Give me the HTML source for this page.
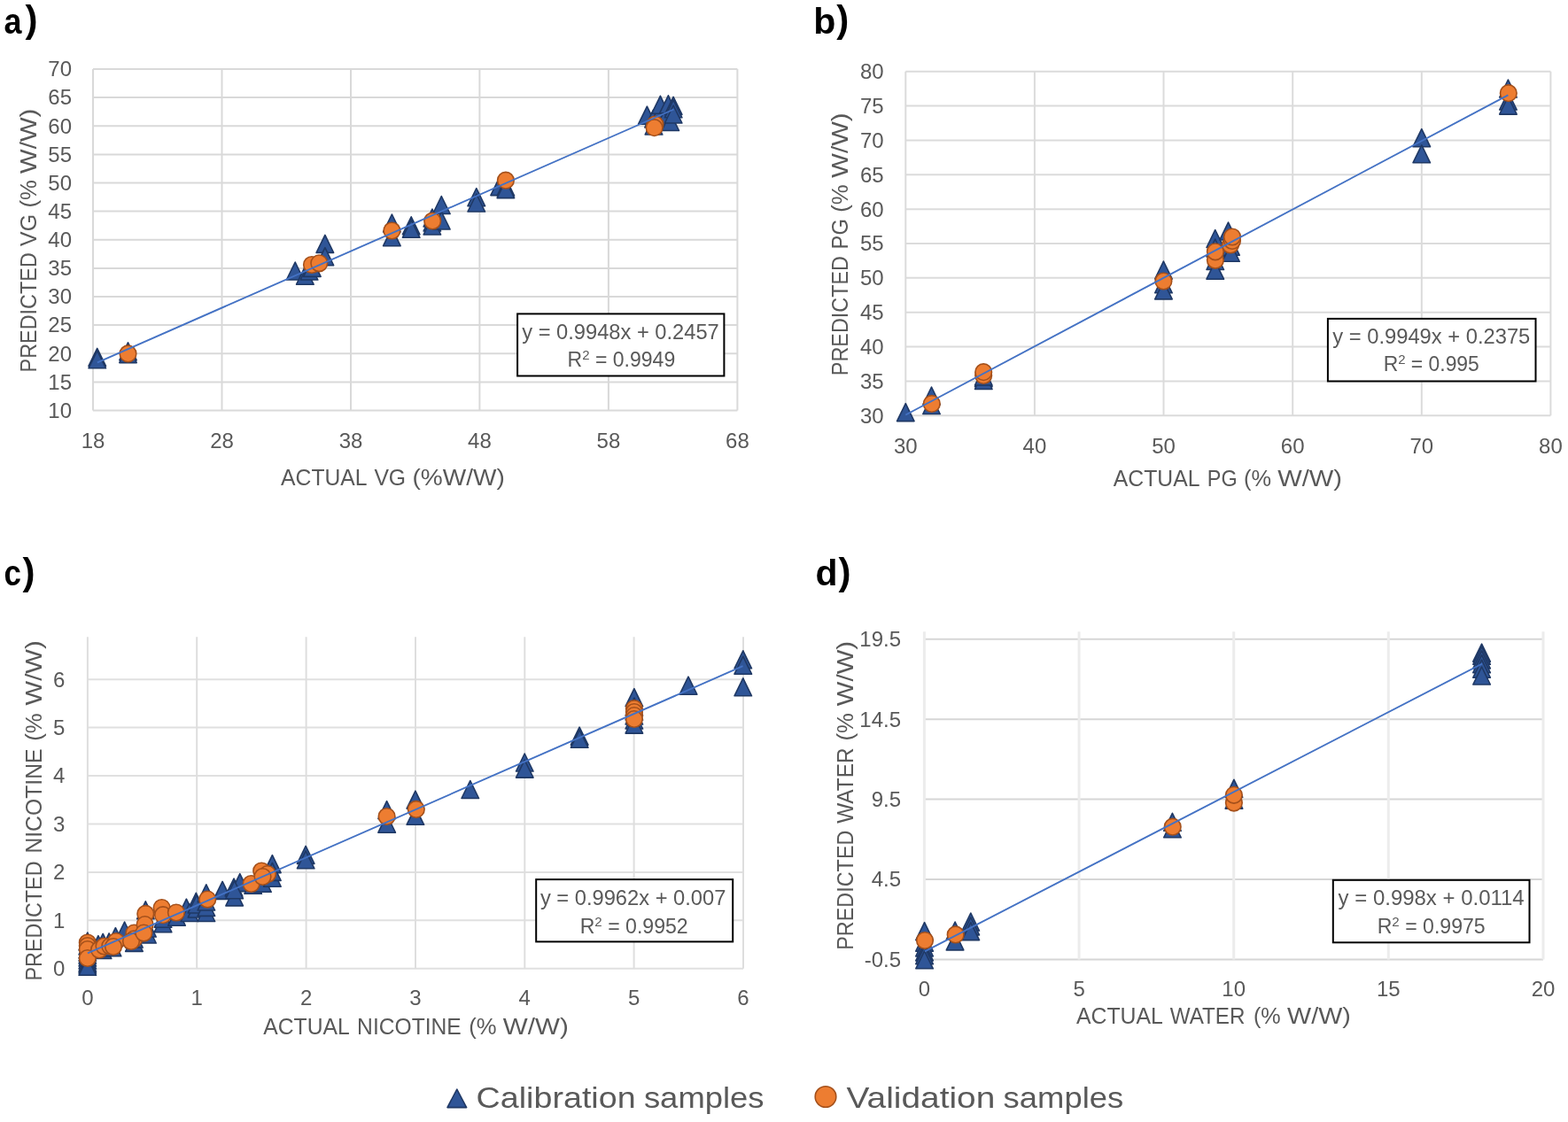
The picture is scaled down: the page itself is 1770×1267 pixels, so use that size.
<!DOCTYPE html>
<html><head><meta charset="utf-8"><title>Predicted vs actual</title>
<style>
html,body{margin:0;padding:0;background:#fff;}
body{width:1770px;height:1267px;overflow:hidden;}
svg{display:block;font-family:'Liberation Sans', Arial, sans-serif;}
.t{fill:#2f5597;stroke:#1f3864;stroke-width:1.6;stroke-linejoin:round;}
.o{fill:#ed7d31;stroke:#a4501b;stroke-width:1.6;}
</style></head><body>
<svg width="1770" height="1267" viewBox="0 0 1770 1267">
<rect width="1770" height="1267" fill="#fff"/>
<line x1="105.0" y1="463.5" x2="832.4" y2="463.5" stroke="#d9d9d9" stroke-width="2"/>
<line x1="105.0" y1="431.4" x2="832.4" y2="431.4" stroke="#d9d9d9" stroke-width="2"/>
<line x1="105.0" y1="399.2" x2="832.4" y2="399.2" stroke="#d9d9d9" stroke-width="2"/>
<line x1="105.0" y1="367.1" x2="832.4" y2="367.1" stroke="#d9d9d9" stroke-width="2"/>
<line x1="105.0" y1="335.0" x2="832.4" y2="335.0" stroke="#d9d9d9" stroke-width="2"/>
<line x1="105.0" y1="302.9" x2="832.4" y2="302.9" stroke="#d9d9d9" stroke-width="2"/>
<line x1="105.0" y1="270.8" x2="832.4" y2="270.8" stroke="#d9d9d9" stroke-width="2"/>
<line x1="105.0" y1="238.6" x2="832.4" y2="238.6" stroke="#d9d9d9" stroke-width="2"/>
<line x1="105.0" y1="206.5" x2="832.4" y2="206.5" stroke="#d9d9d9" stroke-width="2"/>
<line x1="105.0" y1="174.4" x2="832.4" y2="174.4" stroke="#d9d9d9" stroke-width="2"/>
<line x1="105.0" y1="142.2" x2="832.4" y2="142.2" stroke="#d9d9d9" stroke-width="2"/>
<line x1="105.0" y1="110.1" x2="832.4" y2="110.1" stroke="#d9d9d9" stroke-width="2"/>
<line x1="105.0" y1="78.0" x2="832.4" y2="78.0" stroke="#d9d9d9" stroke-width="2"/>
<line x1="105.0" y1="78.0" x2="105.0" y2="463.5" stroke="#d9d9d9" stroke-width="2"/>
<line x1="250.5" y1="78.0" x2="250.5" y2="463.5" stroke="#d9d9d9" stroke-width="2"/>
<line x1="396.0" y1="78.0" x2="396.0" y2="463.5" stroke="#d9d9d9" stroke-width="2"/>
<line x1="541.4" y1="78.0" x2="541.4" y2="463.5" stroke="#d9d9d9" stroke-width="2"/>
<line x1="686.9" y1="78.0" x2="686.9" y2="463.5" stroke="#d9d9d9" stroke-width="2"/>
<line x1="832.4" y1="78.0" x2="832.4" y2="463.5" stroke="#d9d9d9" stroke-width="2"/>
<text x="81.0" y="471.8" font-size="24" text-anchor="end" fill="#595959" font-weight="normal">10</text>
<text x="81.0" y="439.7" font-size="24" text-anchor="end" fill="#595959" font-weight="normal">15</text>
<text x="81.0" y="407.6" font-size="24" text-anchor="end" fill="#595959" font-weight="normal">20</text>
<text x="81.0" y="375.4" font-size="24" text-anchor="end" fill="#595959" font-weight="normal">25</text>
<text x="81.0" y="343.3" font-size="24" text-anchor="end" fill="#595959" font-weight="normal">30</text>
<text x="81.0" y="311.2" font-size="24" text-anchor="end" fill="#595959" font-weight="normal">35</text>
<text x="81.0" y="279.1" font-size="24" text-anchor="end" fill="#595959" font-weight="normal">40</text>
<text x="81.0" y="246.9" font-size="24" text-anchor="end" fill="#595959" font-weight="normal">45</text>
<text x="81.0" y="214.8" font-size="24" text-anchor="end" fill="#595959" font-weight="normal">50</text>
<text x="81.0" y="182.7" font-size="24" text-anchor="end" fill="#595959" font-weight="normal">55</text>
<text x="81.0" y="150.6" font-size="24" text-anchor="end" fill="#595959" font-weight="normal">60</text>
<text x="81.0" y="118.4" font-size="24" text-anchor="end" fill="#595959" font-weight="normal">65</text>
<text x="81.0" y="86.3" font-size="24" text-anchor="end" fill="#595959" font-weight="normal">70</text>
<text x="105.0" y="505.5" font-size="24" text-anchor="middle" fill="#595959" font-weight="normal">18</text>
<text x="250.5" y="505.5" font-size="24" text-anchor="middle" fill="#595959" font-weight="normal">28</text>
<text x="396.0" y="505.5" font-size="24" text-anchor="middle" fill="#595959" font-weight="normal">38</text>
<text x="541.4" y="505.5" font-size="24" text-anchor="middle" fill="#595959" font-weight="normal">48</text>
<text x="686.9" y="505.5" font-size="24" text-anchor="middle" fill="#595959" font-weight="normal">58</text>
<text x="832.4" y="505.5" font-size="24" text-anchor="middle" fill="#595959" font-weight="normal">68</text>
<line x1="1022.3" y1="469.2" x2="1750.4" y2="469.2" stroke="#dbdbdb" stroke-width="2"/>
<line x1="1022.3" y1="430.4" x2="1750.4" y2="430.4" stroke="#dbdbdb" stroke-width="2"/>
<line x1="1022.3" y1="391.5" x2="1750.4" y2="391.5" stroke="#dbdbdb" stroke-width="2"/>
<line x1="1022.3" y1="352.7" x2="1750.4" y2="352.7" stroke="#dbdbdb" stroke-width="2"/>
<line x1="1022.3" y1="313.8" x2="1750.4" y2="313.8" stroke="#dbdbdb" stroke-width="2"/>
<line x1="1022.3" y1="275.0" x2="1750.4" y2="275.0" stroke="#dbdbdb" stroke-width="2"/>
<line x1="1022.3" y1="236.2" x2="1750.4" y2="236.2" stroke="#dbdbdb" stroke-width="2"/>
<line x1="1022.3" y1="197.3" x2="1750.4" y2="197.3" stroke="#dbdbdb" stroke-width="2"/>
<line x1="1022.3" y1="158.5" x2="1750.4" y2="158.5" stroke="#dbdbdb" stroke-width="2"/>
<line x1="1022.3" y1="119.6" x2="1750.4" y2="119.6" stroke="#dbdbdb" stroke-width="2"/>
<line x1="1022.3" y1="80.8" x2="1750.4" y2="80.8" stroke="#dbdbdb" stroke-width="2"/>
<line x1="1022.3" y1="80.8" x2="1022.3" y2="469.2" stroke="#dbdbdb" stroke-width="2"/>
<line x1="1167.9" y1="80.8" x2="1167.9" y2="469.2" stroke="#dbdbdb" stroke-width="2"/>
<line x1="1313.5" y1="80.8" x2="1313.5" y2="469.2" stroke="#dbdbdb" stroke-width="2"/>
<line x1="1459.2" y1="80.8" x2="1459.2" y2="469.2" stroke="#dbdbdb" stroke-width="2"/>
<line x1="1604.8" y1="80.8" x2="1604.8" y2="469.2" stroke="#dbdbdb" stroke-width="2"/>
<line x1="1750.4" y1="80.8" x2="1750.4" y2="469.2" stroke="#dbdbdb" stroke-width="2"/>
<text x="997.7" y="477.5" font-size="24" text-anchor="end" fill="#595959" font-weight="normal">30</text>
<text x="997.7" y="438.7" font-size="24" text-anchor="end" fill="#595959" font-weight="normal">35</text>
<text x="997.7" y="399.8" font-size="24" text-anchor="end" fill="#595959" font-weight="normal">40</text>
<text x="997.7" y="361.0" font-size="24" text-anchor="end" fill="#595959" font-weight="normal">45</text>
<text x="997.7" y="322.1" font-size="24" text-anchor="end" fill="#595959" font-weight="normal">50</text>
<text x="997.7" y="283.3" font-size="24" text-anchor="end" fill="#595959" font-weight="normal">55</text>
<text x="997.7" y="244.5" font-size="24" text-anchor="end" fill="#595959" font-weight="normal">60</text>
<text x="997.7" y="205.6" font-size="24" text-anchor="end" fill="#595959" font-weight="normal">65</text>
<text x="997.7" y="166.8" font-size="24" text-anchor="end" fill="#595959" font-weight="normal">70</text>
<text x="997.7" y="127.9" font-size="24" text-anchor="end" fill="#595959" font-weight="normal">75</text>
<text x="997.7" y="89.1" font-size="24" text-anchor="end" fill="#595959" font-weight="normal">80</text>
<text x="1022.3" y="511.6" font-size="24" text-anchor="middle" fill="#595959" font-weight="normal">30</text>
<text x="1167.9" y="511.6" font-size="24" text-anchor="middle" fill="#595959" font-weight="normal">40</text>
<text x="1313.5" y="511.6" font-size="24" text-anchor="middle" fill="#595959" font-weight="normal">50</text>
<text x="1459.2" y="511.6" font-size="24" text-anchor="middle" fill="#595959" font-weight="normal">60</text>
<text x="1604.8" y="511.6" font-size="24" text-anchor="middle" fill="#595959" font-weight="normal">70</text>
<text x="1750.4" y="511.6" font-size="24" text-anchor="middle" fill="#595959" font-weight="normal">80</text>
<line x1="98.9" y1="1093.7" x2="839.0" y2="1093.7" stroke="#e0e0e0" stroke-width="2"/>
<line x1="98.9" y1="1039.3" x2="839.0" y2="1039.3" stroke="#e0e0e0" stroke-width="2"/>
<line x1="98.9" y1="984.9" x2="839.0" y2="984.9" stroke="#e0e0e0" stroke-width="2"/>
<line x1="98.9" y1="930.5" x2="839.0" y2="930.5" stroke="#e0e0e0" stroke-width="2"/>
<line x1="98.9" y1="876.0" x2="839.0" y2="876.0" stroke="#e0e0e0" stroke-width="2"/>
<line x1="98.9" y1="821.6" x2="839.0" y2="821.6" stroke="#e0e0e0" stroke-width="2"/>
<line x1="98.9" y1="767.2" x2="839.0" y2="767.2" stroke="#e0e0e0" stroke-width="2"/>
<line x1="98.9" y1="719.2" x2="98.9" y2="1093.7" stroke="#dedede" stroke-width="2"/>
<line x1="222.2" y1="719.2" x2="222.2" y2="1093.7" stroke="#dedede" stroke-width="2"/>
<line x1="345.6" y1="719.2" x2="345.6" y2="1093.7" stroke="#dedede" stroke-width="2"/>
<line x1="469.0" y1="719.2" x2="469.0" y2="1093.7" stroke="#dedede" stroke-width="2"/>
<line x1="592.3" y1="719.2" x2="592.3" y2="1093.7" stroke="#dedede" stroke-width="2"/>
<line x1="715.6" y1="719.2" x2="715.6" y2="1093.7" stroke="#dedede" stroke-width="2"/>
<line x1="839.0" y1="719.2" x2="839.0" y2="1093.7" stroke="#dedede" stroke-width="2"/>
<text x="73.3" y="1102.0" font-size="24" text-anchor="end" fill="#595959" font-weight="normal">0</text>
<text x="73.3" y="1047.6" font-size="24" text-anchor="end" fill="#595959" font-weight="normal">1</text>
<text x="73.3" y="993.2" font-size="24" text-anchor="end" fill="#595959" font-weight="normal">2</text>
<text x="73.3" y="938.8" font-size="24" text-anchor="end" fill="#595959" font-weight="normal">3</text>
<text x="73.3" y="884.3" font-size="24" text-anchor="end" fill="#595959" font-weight="normal">4</text>
<text x="73.3" y="829.9" font-size="24" text-anchor="end" fill="#595959" font-weight="normal">5</text>
<text x="73.3" y="775.5" font-size="24" text-anchor="end" fill="#595959" font-weight="normal">6</text>
<text x="98.9" y="1135.3" font-size="24" text-anchor="middle" fill="#595959" font-weight="normal">0</text>
<text x="222.2" y="1135.3" font-size="24" text-anchor="middle" fill="#595959" font-weight="normal">1</text>
<text x="345.6" y="1135.3" font-size="24" text-anchor="middle" fill="#595959" font-weight="normal">2</text>
<text x="469.0" y="1135.3" font-size="24" text-anchor="middle" fill="#595959" font-weight="normal">3</text>
<text x="592.3" y="1135.3" font-size="24" text-anchor="middle" fill="#595959" font-weight="normal">4</text>
<text x="715.6" y="1135.3" font-size="24" text-anchor="middle" fill="#595959" font-weight="normal">5</text>
<text x="839.0" y="1135.3" font-size="24" text-anchor="middle" fill="#595959" font-weight="normal">6</text>
<line x1="1043.4" y1="1083.4" x2="1742.0" y2="1083.4" stroke="#d6d6d6" stroke-width="2"/>
<line x1="1043.4" y1="993.0" x2="1742.0" y2="993.0" stroke="#d6d6d6" stroke-width="2"/>
<line x1="1043.4" y1="902.6" x2="1742.0" y2="902.6" stroke="#d6d6d6" stroke-width="2"/>
<line x1="1043.4" y1="812.2" x2="1742.0" y2="812.2" stroke="#d6d6d6" stroke-width="2"/>
<line x1="1043.4" y1="721.8" x2="1742.0" y2="721.8" stroke="#d6d6d6" stroke-width="2"/>
<line x1="1043.4" y1="713.2" x2="1043.4" y2="1083.4" stroke="#ececec" stroke-width="3"/>
<line x1="1218.1" y1="713.2" x2="1218.1" y2="1083.4" stroke="#ececec" stroke-width="3"/>
<line x1="1392.7" y1="713.2" x2="1392.7" y2="1083.4" stroke="#ececec" stroke-width="3"/>
<line x1="1567.3" y1="713.2" x2="1567.3" y2="1083.4" stroke="#ececec" stroke-width="3"/>
<line x1="1742.0" y1="713.2" x2="1742.0" y2="1083.4" stroke="#ececec" stroke-width="3"/>
<text x="1017.0" y="1091.7" font-size="24" text-anchor="end" fill="#595959" font-weight="normal">-0.5</text>
<text x="1017.0" y="1001.3" font-size="24" text-anchor="end" fill="#595959" font-weight="normal">4.5</text>
<text x="1017.0" y="910.9" font-size="24" text-anchor="end" fill="#595959" font-weight="normal">9.5</text>
<text x="1017.0" y="820.5" font-size="24" text-anchor="end" fill="#595959" font-weight="normal">14.5</text>
<text x="1017.0" y="730.1" font-size="24" text-anchor="end" fill="#595959" font-weight="normal">19.5</text>
<text x="1043.4" y="1125.3" font-size="24" text-anchor="middle" fill="#595959" font-weight="normal">0</text>
<text x="1218.1" y="1125.3" font-size="24" text-anchor="middle" fill="#595959" font-weight="normal">5</text>
<text x="1392.7" y="1125.3" font-size="24" text-anchor="middle" fill="#595959" font-weight="normal">10</text>
<text x="1567.3" y="1125.3" font-size="24" text-anchor="middle" fill="#595959" font-weight="normal">15</text>
<text x="1742.0" y="1125.3" font-size="24" text-anchor="middle" fill="#595959" font-weight="normal">20</text>
<text x="317.1" y="548.3" font-size="26.5" text-anchor="start" fill="#595959" font-weight="normal" textLength="97.4" lengthAdjust="spacingAndGlyphs">ACTUAL</text>
<text x="422.4" y="548.3" font-size="26.5" text-anchor="start" fill="#595959" font-weight="normal" textLength="35.7" lengthAdjust="spacingAndGlyphs">VG</text>
<text x="465.5" y="548.3" font-size="26.5" text-anchor="start" fill="#595959" font-weight="normal" textLength="104.3" lengthAdjust="spacingAndGlyphs">(%W/W)</text>
<text x="1256.8" y="549.2" font-size="26.5" text-anchor="start" fill="#595959" font-weight="normal" textLength="97.7" lengthAdjust="spacingAndGlyphs">ACTUAL</text>
<text x="1362.8" y="549.2" font-size="26.5" text-anchor="start" fill="#595959" font-weight="normal" textLength="33.8" lengthAdjust="spacingAndGlyphs">PG</text>
<text x="1404.0" y="549.2" font-size="26.5" text-anchor="start" fill="#595959" font-weight="normal" textLength="31.0" lengthAdjust="spacingAndGlyphs">(%</text>
<text x="1442.2" y="549.2" font-size="26.5" text-anchor="start" fill="#595959" font-weight="normal" textLength="72.9" lengthAdjust="spacingAndGlyphs">W/W)</text>
<text x="297.3" y="1167.5" font-size="26.5" text-anchor="start" fill="#595959" font-weight="normal" textLength="97.4" lengthAdjust="spacingAndGlyphs">ACTUAL</text>
<text x="403.1" y="1167.5" font-size="26.5" text-anchor="start" fill="#595959" font-weight="normal" textLength="117.7" lengthAdjust="spacingAndGlyphs">NICOTINE</text>
<text x="529.2" y="1167.5" font-size="26.5" text-anchor="start" fill="#595959" font-weight="normal" textLength="31.3" lengthAdjust="spacingAndGlyphs">(%</text>
<text x="567.8" y="1167.5" font-size="26.5" text-anchor="start" fill="#595959" font-weight="normal" textLength="74.0" lengthAdjust="spacingAndGlyphs">W/W)</text>
<text x="1215.0" y="1156.3" font-size="26.5" text-anchor="start" fill="#595959" font-weight="normal" textLength="97.9" lengthAdjust="spacingAndGlyphs">ACTUAL</text>
<text x="1320.7" y="1156.3" font-size="26.5" text-anchor="start" fill="#595959" font-weight="normal" textLength="84.8" lengthAdjust="spacingAndGlyphs">WATER</text>
<text x="1414.9" y="1156.3" font-size="26.5" text-anchor="start" fill="#595959" font-weight="normal" textLength="30.7" lengthAdjust="spacingAndGlyphs">(%</text>
<text x="1453.1" y="1156.3" font-size="26.5" text-anchor="start" fill="#595959" font-weight="normal" textLength="71.8" lengthAdjust="spacingAndGlyphs">W/W)</text>
<text transform="translate(40.8,420.4) rotate(-90)" x="0" y="0" font-size="26.5" fill="#595959" textLength="135.2" lengthAdjust="spacingAndGlyphs">PREDICTED</text>
<text transform="translate(40.8,277.9) rotate(-90)" x="0" y="0" font-size="26.5" fill="#595959" textLength="36.1" lengthAdjust="spacingAndGlyphs">VG</text>
<text transform="translate(40.8,234.6) rotate(-90)" x="0" y="0" font-size="26.5" fill="#595959" textLength="31.4" lengthAdjust="spacingAndGlyphs">(%</text>
<text transform="translate(40.8,195.9) rotate(-90)" x="0" y="0" font-size="26.5" fill="#595959" textLength="73.3" lengthAdjust="spacingAndGlyphs">W/W)</text>
<text transform="translate(957.0,424.2) rotate(-90)" x="0" y="0" font-size="26.5" fill="#595959" textLength="135.2" lengthAdjust="spacingAndGlyphs">PREDICTED</text>
<text transform="translate(957.0,281.4) rotate(-90)" x="0" y="0" font-size="26.5" fill="#595959" textLength="34.2" lengthAdjust="spacingAndGlyphs">PG</text>
<text transform="translate(957.0,239.7) rotate(-90)" x="0" y="0" font-size="26.5" fill="#595959" textLength="31.4" lengthAdjust="spacingAndGlyphs">(%</text>
<text transform="translate(957.0,200.7) rotate(-90)" x="0" y="0" font-size="26.5" fill="#595959" textLength="73.3" lengthAdjust="spacingAndGlyphs">W/W)</text>
<text transform="translate(47.1,1107.6) rotate(-90)" x="0" y="0" font-size="26.5" fill="#595959" textLength="135.2" lengthAdjust="spacingAndGlyphs">PREDICTED</text>
<text transform="translate(47.1,963.6) rotate(-90)" x="0" y="0" font-size="26.5" fill="#595959" textLength="118.1" lengthAdjust="spacingAndGlyphs">NICOTINE</text>
<text transform="translate(47.1,836.7) rotate(-90)" x="0" y="0" font-size="26.5" fill="#595959" textLength="31.4" lengthAdjust="spacingAndGlyphs">(%</text>
<text transform="translate(47.1,796.5) rotate(-90)" x="0" y="0" font-size="26.5" fill="#595959" textLength="73.3" lengthAdjust="spacingAndGlyphs">W/W)</text>
<text transform="translate(963.2,1072.8) rotate(-90)" x="0" y="0" font-size="26.5" fill="#595959" textLength="135.2" lengthAdjust="spacingAndGlyphs">PREDICTED</text>
<text transform="translate(963.2,929.7) rotate(-90)" x="0" y="0" font-size="26.5" fill="#595959" textLength="85.2" lengthAdjust="spacingAndGlyphs">WATER</text>
<text transform="translate(963.2,836.5) rotate(-90)" x="0" y="0" font-size="26.5" fill="#595959" textLength="31.4" lengthAdjust="spacingAndGlyphs">(%</text>
<text transform="translate(963.2,797.2) rotate(-90)" x="0" y="0" font-size="26.5" fill="#595959" textLength="73.3" lengthAdjust="spacingAndGlyphs">W/W)</text>
<text x="4.5" y="38.3" font-size="40" text-anchor="start" fill="#000" font-weight="bold" textLength="20.0" lengthAdjust="spacingAndGlyphs">a</text>
<text x="28.6" y="36.3" font-size="42" text-anchor="start" fill="#000" font-weight="bold">)</text>
<text x="918.3" y="38.3" font-size="40" text-anchor="start" fill="#000" font-weight="bold" textLength="25.1" lengthAdjust="spacingAndGlyphs">b</text>
<text x="944.3" y="36.3" font-size="42" text-anchor="start" fill="#000" font-weight="bold">)</text>
<text x="4.4" y="661.0" font-size="40" text-anchor="start" fill="#000" font-weight="bold" textLength="19.4" lengthAdjust="spacingAndGlyphs">c</text>
<text x="25.5" y="660.0" font-size="42" text-anchor="start" fill="#000" font-weight="bold">)</text>
<text x="920.5" y="661.0" font-size="40" text-anchor="start" fill="#000" font-weight="bold" textLength="25.0" lengthAdjust="spacingAndGlyphs">d</text>
<text x="946.5" y="660.0" font-size="42" text-anchor="start" fill="#000" font-weight="bold">)</text>
<path d="M109.7,393.4L119.5,413.4L100.0,413.4Z" class="t"/>
<path d="M109.7,395.8L119.5,415.8L100.0,415.8Z" class="t"/>
<path d="M144.5,386.8L154.2,406.8L134.8,406.8Z" class="t"/>
<path d="M144.5,389.6L154.2,409.6L134.8,409.6Z" class="t"/>
<path d="M333.2,296.0L342.9,316.0L323.4,316.0Z" class="t"/>
<path d="M344.3,301.2L354.1,321.2L334.6,321.2Z" class="t"/>
<path d="M349.0,296.0L358.8,316.0L339.2,316.0Z" class="t"/>
<path d="M352.3,292.4L362.1,312.4L342.6,312.4Z" class="t"/>
<path d="M366.9,265.4L376.6,285.4L357.1,285.4Z" class="t"/>
<path d="M366.9,279.7L376.6,299.7L357.1,299.7Z" class="t"/>
<path d="M442.4,242.0L452.1,262.0L432.6,262.0Z" class="t"/>
<path d="M442.4,257.7L452.1,277.7L432.6,277.7Z" class="t"/>
<path d="M464.2,244.8L473.9,264.8L454.4,264.8Z" class="t"/>
<path d="M464.2,248.3L473.9,268.3L454.4,268.3Z" class="t"/>
<path d="M487.9,236.0L497.6,256.0L478.1,256.0Z" class="t"/>
<path d="M487.9,241.0L497.6,261.0L478.1,261.0Z" class="t"/>
<path d="M487.9,245.0L497.6,265.0L478.1,265.0Z" class="t"/>
<path d="M498.3,221.5L508.1,241.5L488.6,241.5Z" class="t"/>
<path d="M498.3,239.0L508.1,259.0L488.6,259.0Z" class="t"/>
<path d="M537.8,212.7L547.5,232.7L528.0,232.7Z" class="t"/>
<path d="M537.8,219.0L547.5,239.0L528.0,239.0Z" class="t"/>
<path d="M563.6,200.6L573.4,220.6L553.9,220.6Z" class="t"/>
<path d="M570.9,201.0L580.6,221.0L561.1,221.0Z" class="t"/>
<path d="M570.9,203.6L580.6,223.6L561.1,223.6Z" class="t"/>
<path d="M730.4,120.2L740.1,140.2L720.6,140.2Z" class="t"/>
<path d="M737.5,124.0L747.2,144.0L727.8,144.0Z" class="t"/>
<path d="M745.4,117.0L755.1,137.0L735.6,137.0Z" class="t"/>
<path d="M752.0,121.0L761.8,141.0L742.2,141.0Z" class="t"/>
<path d="M738.0,132.0L747.8,152.0L728.2,152.0Z" class="t"/>
<path d="M745.4,108.3L755.1,128.3L735.6,128.3Z" class="t"/>
<path d="M754.4,107.8L764.1,127.8L744.6,127.8Z" class="t"/>
<path d="M756.7,127.5L766.5,147.5L747.0,147.5Z" class="t"/>
<path d="M760.1,109.4L769.9,129.4L750.4,129.4Z" class="t"/>
<path d="M760.1,112.8L769.9,132.8L750.4,132.8Z" class="t"/>
<path d="M760.1,119.0L769.9,139.0L750.4,139.0Z" class="t"/>
<circle cx="144.5" cy="399.4" r="9.3" class="o"/>
<circle cx="352.0" cy="299.0" r="9.3" class="o"/>
<circle cx="360.3" cy="297.3" r="9.3" class="o"/>
<circle cx="442.4" cy="260.5" r="9.3" class="o"/>
<circle cx="488.2" cy="249.5" r="9.3" class="o"/>
<circle cx="570.9" cy="203.7" r="9.3" class="o"/>
<circle cx="739.5" cy="140.5" r="9.3" class="o"/>
<circle cx="738.6" cy="144.2" r="9.3" class="o"/>
<line x1="109.9" y1="409.3" x2="760.6" y2="123.5" stroke="#4472c4" stroke-width="1.9"/>
<path d="M1022.3,455.6L1032.0,475.6L1012.5,475.6Z" class="t"/>
<path d="M1051.5,437.0L1061.2,457.0L1041.8,457.0Z" class="t"/>
<path d="M1051.5,447.5L1061.2,467.5L1041.8,467.5Z" class="t"/>
<path d="M1110.2,416.7L1120.0,436.7L1100.5,436.7Z" class="t"/>
<path d="M1110.2,419.5L1120.0,439.5L1100.5,439.5Z" class="t"/>
<path d="M1110.2,415.0L1120.0,435.0L1100.5,435.0Z" class="t"/>
<path d="M1313.4,295.0L1323.2,315.0L1303.7,315.0Z" class="t"/>
<path d="M1313.4,310.8L1323.2,330.8L1303.7,330.8Z" class="t"/>
<path d="M1313.4,317.9L1323.2,337.9L1303.7,337.9Z" class="t"/>
<path d="M1371.7,259.5L1381.5,279.5L1362.0,279.5Z" class="t"/>
<path d="M1371.7,284.5L1381.5,304.5L1362.0,304.5Z" class="t"/>
<path d="M1371.7,295.2L1381.5,315.2L1362.0,315.2Z" class="t"/>
<path d="M1371.7,270.0L1381.5,290.0L1362.0,290.0Z" class="t"/>
<path d="M1386.5,251.0L1396.2,271.0L1376.8,271.0Z" class="t"/>
<path d="M1389.5,268.2L1399.2,288.2L1379.8,288.2Z" class="t"/>
<path d="M1389.5,275.3L1399.2,295.3L1379.8,295.3Z" class="t"/>
<path d="M1604.8,145.7L1614.5,165.7L1595.0,165.7Z" class="t"/>
<path d="M1604.8,163.8L1614.5,183.8L1595.0,183.8Z" class="t"/>
<path d="M1702.4,90.0L1712.2,110.0L1692.7,110.0Z" class="t"/>
<path d="M1702.4,104.0L1712.2,124.0L1692.7,124.0Z" class="t"/>
<path d="M1702.4,109.1L1712.2,129.1L1692.7,129.1Z" class="t"/>
<circle cx="1051.8" cy="455.9" r="9.3" class="o"/>
<circle cx="1110.2" cy="424.0" r="9.3" class="o"/>
<circle cx="1110.2" cy="420.2" r="9.3" class="o"/>
<circle cx="1313.4" cy="317.5" r="9.3" class="o"/>
<circle cx="1371.9" cy="293.8" r="9.3" class="o"/>
<circle cx="1371.9" cy="284.3" r="9.3" class="o"/>
<circle cx="1389.0" cy="276.5" r="9.3" class="o"/>
<circle cx="1391.0" cy="272.0" r="9.3" class="o"/>
<circle cx="1391.0" cy="267.5" r="9.3" class="o"/>
<circle cx="1702.8" cy="105.2" r="9.3" class="o"/>
<line x1="1022.3" y1="468.5" x2="1702.4" y2="107.3" stroke="#4472c4" stroke-width="1.9"/>
<path d="M98.8,1053.0L108.5,1073.0L89.0,1073.0Z" class="t"/>
<path d="M98.8,1058.0L108.5,1078.0L89.0,1078.0Z" class="t"/>
<path d="M98.8,1062.0L108.5,1082.0L89.0,1082.0Z" class="t"/>
<path d="M98.8,1065.0L108.5,1085.0L89.0,1085.0Z" class="t"/>
<path d="M98.8,1068.0L108.5,1088.0L89.0,1088.0Z" class="t"/>
<path d="M98.8,1071.0L108.5,1091.0L89.0,1091.0Z" class="t"/>
<path d="M98.8,1074.0L108.5,1094.0L89.0,1094.0Z" class="t"/>
<path d="M98.8,1077.0L108.5,1097.0L89.0,1097.0Z" class="t"/>
<path d="M98.8,1079.0L108.5,1099.0L89.0,1099.0Z" class="t"/>
<path d="M98.8,1081.3L108.5,1101.3L89.0,1101.3Z" class="t"/>
<path d="M116.2,1054.4L126.0,1074.4L106.5,1074.4Z" class="t"/>
<path d="M116.0,1062.5L125.8,1082.5L106.2,1082.5Z" class="t"/>
<path d="M130.4,1047.6L140.2,1067.6L120.7,1067.6Z" class="t"/>
<path d="M127.0,1059.8L136.8,1079.8L117.2,1079.8Z" class="t"/>
<path d="M140.6,1041.0L150.3,1061.0L130.8,1061.0Z" class="t"/>
<path d="M110.9,1056.6L120.7,1076.6L101.2,1076.6Z" class="t"/>
<path d="M123.1,1053.9L132.8,1073.9L113.3,1073.9Z" class="t"/>
<path d="M151.4,1054.4L161.2,1074.4L141.7,1074.4Z" class="t"/>
<path d="M151.4,1050.0L161.2,1070.0L141.7,1070.0Z" class="t"/>
<path d="M164.3,1017.8L174.1,1037.8L154.6,1037.8Z" class="t"/>
<path d="M166.4,1045.0L176.2,1065.0L156.7,1065.0Z" class="t"/>
<path d="M166.4,1038.0L176.2,1058.0L156.7,1058.0Z" class="t"/>
<path d="M184.0,1032.7L193.8,1052.7L174.2,1052.7Z" class="t"/>
<path d="M184.0,1027.3L193.8,1047.3L174.2,1047.3Z" class="t"/>
<path d="M199.5,1025.2L209.2,1045.2L189.8,1045.2Z" class="t"/>
<path d="M210.4,1015.1L220.2,1035.1L200.7,1035.1Z" class="t"/>
<path d="M221.3,1008.3L231.1,1028.3L211.6,1028.3Z" class="t"/>
<path d="M213.8,1020.5L223.6,1040.5L204.1,1040.5Z" class="t"/>
<path d="M222.0,1016.0L231.8,1036.0L212.2,1036.0Z" class="t"/>
<path d="M222.0,1011.0L231.8,1031.0L212.2,1031.0Z" class="t"/>
<path d="M232.8,998.8L242.6,1018.8L223.1,1018.8Z" class="t"/>
<path d="M232.8,1020.5L242.6,1040.5L223.1,1040.5Z" class="t"/>
<path d="M232.8,1014.4L242.6,1034.4L223.1,1034.4Z" class="t"/>
<path d="M232.8,1008.0L242.6,1028.0L223.1,1028.0Z" class="t"/>
<path d="M251.1,995.4L260.9,1015.4L241.3,1015.4Z" class="t"/>
<path d="M264.0,992.0L273.8,1012.0L254.2,1012.0Z" class="t"/>
<path d="M270.8,986.6L280.6,1006.6L261.1,1006.6Z" class="t"/>
<path d="M264.7,1002.9L274.4,1022.9L254.9,1022.9Z" class="t"/>
<path d="M264.7,994.7L274.4,1014.7L254.9,1014.7Z" class="t"/>
<path d="M285.7,989.3L295.4,1009.3L275.9,1009.3Z" class="t"/>
<path d="M296.5,987.3L306.2,1007.3L286.8,1007.3Z" class="t"/>
<path d="M307.4,965.6L317.1,985.6L297.6,985.6Z" class="t"/>
<path d="M307.4,981.2L317.1,1001.2L297.6,1001.2Z" class="t"/>
<path d="M307.4,974.4L317.1,994.4L297.6,994.4Z" class="t"/>
<path d="M345.1,955.4L354.9,975.4L335.4,975.4Z" class="t"/>
<path d="M345.1,960.8L354.9,980.8L335.4,980.8Z" class="t"/>
<path d="M436.6,904.6L446.4,924.6L426.9,924.6Z" class="t"/>
<path d="M436.6,920.2L446.4,940.2L426.9,940.2Z" class="t"/>
<path d="M468.9,893.1L478.6,913.1L459.1,913.1Z" class="t"/>
<path d="M468.9,911.3L478.6,931.3L459.1,931.3Z" class="t"/>
<path d="M530.8,881.5L540.5,901.5L521.0,901.5Z" class="t"/>
<path d="M592.2,851.0L602.0,871.0L582.5,871.0Z" class="t"/>
<path d="M592.2,858.1L602.0,878.1L582.5,878.1Z" class="t"/>
<path d="M654.1,821.2L663.9,841.2L644.4,841.2Z" class="t"/>
<path d="M654.1,824.2L663.9,844.2L644.4,844.2Z" class="t"/>
<path d="M715.9,777.6L725.6,797.6L706.1,797.6Z" class="t"/>
<path d="M715.9,788.0L725.6,808.0L706.1,808.0Z" class="t"/>
<path d="M715.9,793.0L725.6,813.0L706.1,813.0Z" class="t"/>
<path d="M715.9,798.0L725.6,818.0L706.1,818.0Z" class="t"/>
<path d="M715.9,803.0L725.6,823.0L706.1,823.0Z" class="t"/>
<path d="M715.9,808.1L725.6,828.1L706.1,828.1Z" class="t"/>
<path d="M777.0,764.2L786.8,784.2L767.2,784.2Z" class="t"/>
<path d="M838.8,734.8L848.5,754.8L829.0,754.8Z" class="t"/>
<path d="M838.8,741.2L848.5,761.2L829.0,761.2Z" class="t"/>
<path d="M838.8,765.8L848.5,785.8L829.0,785.8Z" class="t"/>
<circle cx="98.8" cy="1064.5" r="9.3" class="o"/>
<circle cx="98.8" cy="1068.0" r="9.3" class="o"/>
<circle cx="98.8" cy="1072.0" r="9.3" class="o"/>
<circle cx="98.8" cy="1082.0" r="9.3" class="o"/>
<circle cx="112.1" cy="1072.5" r="9.3" class="o"/>
<circle cx="117.5" cy="1068.5" r="9.3" class="o"/>
<circle cx="124.3" cy="1068.5" r="9.3" class="o"/>
<circle cx="131.1" cy="1063.0" r="9.3" class="o"/>
<circle cx="128.0" cy="1069.0" r="9.3" class="o"/>
<circle cx="151.4" cy="1053.6" r="9.3" class="o"/>
<circle cx="151.4" cy="1060.3" r="9.3" class="o"/>
<circle cx="148.0" cy="1063.0" r="9.3" class="o"/>
<circle cx="164.3" cy="1031.9" r="9.3" class="o"/>
<circle cx="163.6" cy="1044.1" r="9.3" class="o"/>
<circle cx="162.3" cy="1053.6" r="9.3" class="o"/>
<circle cx="184.0" cy="1029.2" r="9.3" class="o"/>
<circle cx="182.6" cy="1025.1" r="9.3" class="o"/>
<circle cx="184.0" cy="1033.2" r="9.3" class="o"/>
<circle cx="198.9" cy="1030.5" r="9.3" class="o"/>
<circle cx="234.2" cy="1015.6" r="9.3" class="o"/>
<circle cx="283.6" cy="998.0" r="9.3" class="o"/>
<circle cx="295.2" cy="983.5" r="9.3" class="o"/>
<circle cx="302.0" cy="987.1" r="9.3" class="o"/>
<circle cx="296.5" cy="990.0" r="9.3" class="o"/>
<circle cx="436.6" cy="922.0" r="9.3" class="o"/>
<circle cx="469.8" cy="913.9" r="9.3" class="o"/>
<circle cx="715.9" cy="800.2" r="9.3" class="o"/>
<circle cx="715.9" cy="804.0" r="9.3" class="o"/>
<circle cx="715.9" cy="808.1" r="9.3" class="o"/>
<circle cx="715.9" cy="812.0" r="9.3" class="o"/>
<line x1="98.9" y1="1076.4" x2="838.5" y2="752.2" stroke="#4472c4" stroke-width="1.9"/>
<path d="M1043.6,1041.6L1053.3,1061.6L1033.8,1061.6Z" class="t"/>
<path d="M1043.6,1054.2L1053.3,1074.2L1033.8,1074.2Z" class="t"/>
<path d="M1043.6,1059.9L1053.3,1079.9L1033.8,1079.9Z" class="t"/>
<path d="M1043.6,1064.9L1053.3,1084.9L1033.8,1084.9Z" class="t"/>
<path d="M1043.6,1068.7L1053.3,1088.7L1033.8,1088.7Z" class="t"/>
<path d="M1043.6,1073.8L1053.3,1093.8L1033.8,1093.8Z" class="t"/>
<path d="M1078.1,1041.0L1087.8,1061.0L1068.3,1061.0Z" class="t"/>
<path d="M1078.1,1052.9L1087.8,1072.9L1068.3,1072.9Z" class="t"/>
<path d="M1095.8,1031.0L1105.5,1051.0L1086.0,1051.0Z" class="t"/>
<path d="M1095.8,1035.9L1105.5,1055.9L1086.0,1055.9Z" class="t"/>
<path d="M1095.8,1041.6L1105.5,1061.6L1086.0,1061.6Z" class="t"/>
<path d="M1323.4,918.3L1333.2,938.3L1313.7,938.3Z" class="t"/>
<path d="M1323.4,925.8L1333.2,945.8L1313.7,945.8Z" class="t"/>
<path d="M1392.9,880.3L1402.7,900.3L1383.2,900.3Z" class="t"/>
<path d="M1392.9,893.2L1402.7,913.2L1383.2,913.2Z" class="t"/>
<path d="M1672.6,727.2L1682.3,747.2L1662.8,747.2Z" class="t"/>
<path d="M1672.6,730.3L1682.3,750.3L1662.8,750.3Z" class="t"/>
<path d="M1672.6,734.9L1682.3,754.9L1662.8,754.9Z" class="t"/>
<path d="M1672.6,739.7L1682.3,759.7L1662.8,759.7Z" class="t"/>
<path d="M1672.6,745.2L1682.3,765.2L1662.8,765.2Z" class="t"/>
<path d="M1672.6,753.0L1682.3,773.0L1662.8,773.0Z" class="t"/>
<circle cx="1044.0" cy="1062.0" r="9.3" class="o"/>
<circle cx="1078.7" cy="1055.4" r="9.3" class="o"/>
<circle cx="1323.7" cy="933.7" r="9.3" class="o"/>
<circle cx="1392.9" cy="906.6" r="9.3" class="o"/>
<circle cx="1392.9" cy="897.8" r="9.3" class="o"/>
<line x1="1044.0" y1="1074.3" x2="1673.1" y2="749.5" stroke="#4472c4" stroke-width="1.9"/>
<rect x="584.1" y="354.4" width="233.3" height="70.1" fill="#fff" stroke="#000" stroke-width="2"/>
<text x="589.3" y="383.1" font-size="23" text-anchor="start" fill="#595959" font-weight="normal" textLength="222.5" lengthAdjust="spacingAndGlyphs">y = 0.9948x + 0.2457</text>
<text x="640.6" y="413.9" font-size="23" text-anchor="start" fill="#595959" font-weight="normal" textLength="121.6" lengthAdjust="spacingAndGlyphs">R<tspan font-size="15" dy="-8">2</tspan><tspan dy="8"> = 0.9949</tspan></text>
<rect x="1498.9" y="359.9" width="234.6" height="70.6" fill="#fff" stroke="#000" stroke-width="2"/>
<text x="1504.3" y="388.2" font-size="23" text-anchor="start" fill="#595959" font-weight="normal" textLength="223.0" lengthAdjust="spacingAndGlyphs">y = 0.9949x + 0.2375</text>
<text x="1561.7" y="419.0" font-size="23" text-anchor="start" fill="#595959" font-weight="normal" textLength="108.1" lengthAdjust="spacingAndGlyphs">R<tspan font-size="15" dy="-8">2</tspan><tspan dy="8"> = 0.995</tspan></text>
<rect x="605.2" y="993.1" width="222.0" height="70.3" fill="#fff" stroke="#000" stroke-width="2"/>
<text x="609.9" y="1021.6" font-size="23" text-anchor="start" fill="#595959" font-weight="normal" textLength="209.5" lengthAdjust="spacingAndGlyphs">y = 0.9962x + 0.007</text>
<text x="654.7" y="1053.5" font-size="23" text-anchor="start" fill="#595959" font-weight="normal" textLength="122.0" lengthAdjust="spacingAndGlyphs">R<tspan font-size="15" dy="-8">2</tspan><tspan dy="8"> = 0.9952</tspan></text>
<rect x="1504.8" y="993.8" width="221.7" height="70.5" fill="#fff" stroke="#000" stroke-width="2"/>
<text x="1510.6" y="1021.9" font-size="23" text-anchor="start" fill="#595959" font-weight="normal" textLength="210.1" lengthAdjust="spacingAndGlyphs">y = 0.998x + 0.0114</text>
<text x="1554.7" y="1053.5" font-size="23" text-anchor="start" fill="#595959" font-weight="normal" textLength="122.0" lengthAdjust="spacingAndGlyphs">R<tspan font-size="15" dy="-8">2</tspan><tspan dy="8"> = 0.9975</tspan></text>
<path d="M515.8,1230L526.6,1250.6L505,1250.6Z" class="t"/>
<circle cx="932" cy="1238.5" r="11.8" class="o"/>
<text x="537.6" y="1251.1" font-size="33.5" text-anchor="start" fill="#595959" font-weight="normal" textLength="180.0" lengthAdjust="spacingAndGlyphs">Calibration</text>
<text x="726.9" y="1251.1" font-size="33.5" text-anchor="start" fill="#595959" font-weight="normal" textLength="135.7" lengthAdjust="spacingAndGlyphs">samples</text>
<text x="955.5" y="1251.1" font-size="33.5" text-anchor="start" fill="#595959" font-weight="normal" textLength="167.8" lengthAdjust="spacingAndGlyphs">Validation</text>
<text x="1132.6" y="1251.1" font-size="33.5" text-anchor="start" fill="#595959" font-weight="normal" textLength="135.6" lengthAdjust="spacingAndGlyphs">samples</text>
</svg>
</body></html>
